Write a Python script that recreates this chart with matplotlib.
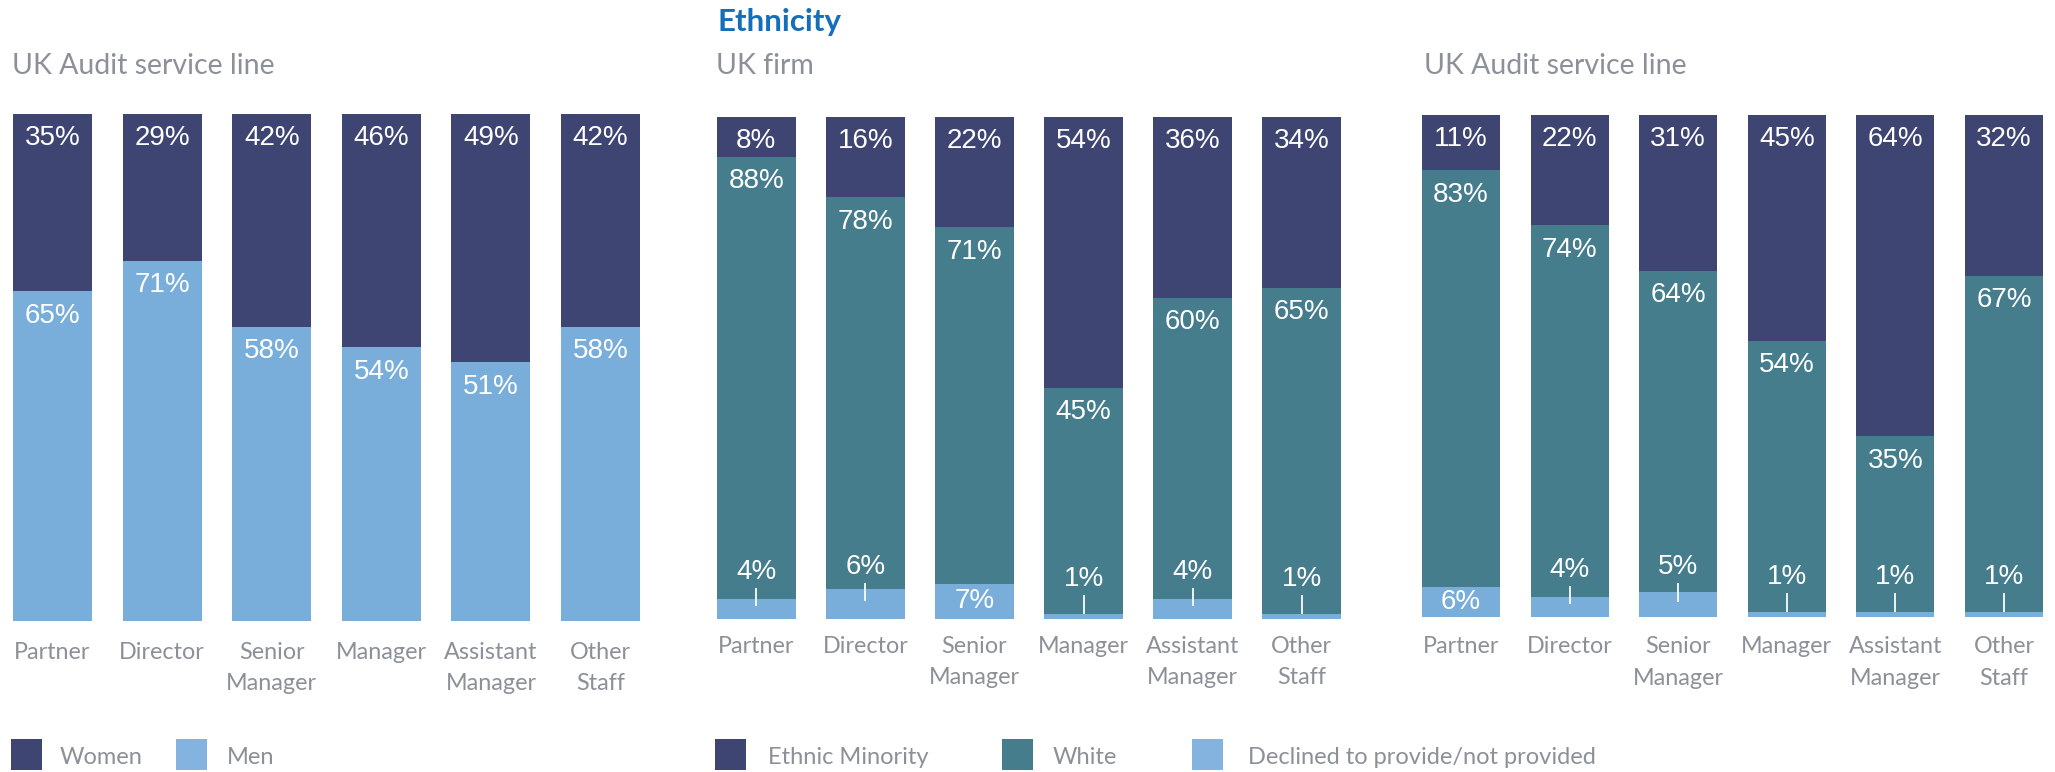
import matplotlib.pyplot as plt
from matplotlib.patches import Rectangle

# =========================
# DATA
# =========================

categories = ["Partner", "Director", "Senior\nManager", "Manager", "Assistant\nManager", "Other\nStaff"]

gender_women = [35, 29, 42, 46, 49, 42]
gender_men = [65, 71, 58, 54, 51, 58]

firm_minority = [8, 16, 22, 54, 36, 34]
firm_white = [88, 78, 71, 45, 60, 65]
firm_declined = [4, 6, 7, 1, 4, 1]

audit_minority = [11, 22, 31, 45, 64, 32]
audit_white = [83, 74, 64, 54, 35, 67]
audit_declined = [6, 4, 5, 1, 1, 1]

# which "declined" labels fit inside their segment
firm_declined_inside = [False, False, True, False, False, False]
audit_declined_inside = [True, False, False, False, False, False]

# =========================
# STYLE
# =========================

NAVY = "#3F4572"
TEAL = "#467D8D"
LIGHT = "#79AEDA"
LIGHT_LEGEND = "#84B3DF"
GREY = "#8C9098"
BLUE = "#146EB9"

LABEL_FONT = "Lato"
VALUE_FONT = "Liberation Sans"

W, H = 2055, 772
fig = plt.figure(figsize=(W / 100, H / 100), dpi=100)


def px_axes(left, top, right, bottom):
    return fig.add_axes([left / W, 1 - bottom / H, (right - left) / W, (bottom - top) / H])


def fx(x):
    return x / W


def fy(y):
    return 1 - y / H


def setup(ax, pad):
    ax.set_xlim(-0.36, 5.36)
    ax.set_ylim(0, 100)
    for s in ax.spines.values():
        s.set_visible(False)
    ax.set_yticks([])
    ax.set_xticks(range(len(categories)))
    ax.set_xticklabels(categories, fontfamily=LABEL_FONT, fontsize=16.8, color=GREY,
                       linespacing=1.6, va="top")
    ax.tick_params(axis="x", length=0, pad=pad)


def seg_label(ax, x, top, value):
    ax.annotate(f"{value}%", (x, top), xytext=(0, -17.5), textcoords="offset points",
                ha="center", va="center", color="white", fontsize=20, fontfamily=VALUE_FONT)


def small_label(ax, x, value, inside):
    mid = value / 2
    if inside:
        ax.text(x, mid, f"{value}%", ha="center", va="center", color="white",
                fontsize=20, fontfamily=VALUE_FONT)
    else:
        b = mid + 0.7
        t = b + 3.3
        ax.plot([x, x], [b, t], color="white", lw=1.4, alpha=0.9)
        ax.text(x, t + 3.4, f"{value}%", ha="center", va="center", color="white",
                fontsize=20, fontfamily=VALUE_FONT)


BAR_W = 0.72
xs = list(range(len(categories)))

# =========================
# PANEL 1 - gender
# =========================

ax1 = px_axes(13, 114, 640, 621)
setup(ax1, 15)
ax1.bar(xs, gender_men, width=BAR_W, color=LIGHT)
ax1.bar(xs, gender_women, bottom=gender_men, width=BAR_W, color=NAVY)
for i in xs:
    seg_label(ax1, i, gender_men[i] + gender_women[i], gender_women[i])
    seg_label(ax1, i, gender_men[i], gender_men[i])

# =========================
# PANELS 2 & 3 - ethnicity
# =========================


def ethnicity_panel(ax, minority, white, declined, inside, pad):
    setup(ax, pad)
    ax.bar(xs, declined, width=BAR_W, color=LIGHT)
    ax.bar(xs, white, bottom=declined, width=BAR_W, color=TEAL)
    wtop = [d + w for d, w in zip(declined, white)]
    ax.bar(xs, minority, bottom=wtop, width=BAR_W, color=NAVY)
    for i in xs:
        seg_label(ax, i, wtop[i] + minority[i], minority[i])
        seg_label(ax, i, wtop[i], white[i])
        small_label(ax, i, declined[i], inside[i])


ax2 = px_axes(717, 117, 1341, 619)
ethnicity_panel(ax2, firm_minority, firm_white, firm_declined, firm_declined_inside, 12)

ax3 = px_axes(1422, 115, 2043, 617)
ethnicity_panel(ax3, audit_minority, audit_white, audit_declined, audit_declined_inside, 14)

# =========================
# TITLES
# =========================

fig.text(fx(717), fy(22), "Ethnicity", color=BLUE, fontsize=22.5, fontweight="bold",
         fontfamily=LABEL_FONT, va="center", ha="left")
for x, t in [(12, "UK Audit service line"), (716, "UK firm"), (1424, "UK Audit service line")]:
    fig.text(fx(x), fy(66), t, color=GREY, fontsize=20.5, fontfamily=LABEL_FONT,
             va="center", ha="left")

# =========================
# LEGENDS
# =========================

legend_items = [
    (11, 60, NAVY, "Women"),
    (176, 227, LIGHT_LEGEND, "Men"),
    (715, 768, NAVY, "Ethnic Minority"),
    (1002, 1053, TEAL, "White"),
    (1192, 1248, LIGHT_LEGEND, "Declined to provide/not provided"),
]
for sx, tx, c, lab in legend_items:
    fig.add_artist(Rectangle((fx(sx), fy(770)), 31 / W, 31 / H, transform=fig.transFigure,
                             color=c, lw=0))
    fig.text(fx(tx), fy(757), lab, color=GREY, fontsize=17, fontfamily=LABEL_FONT,
             va="center", ha="left")

fig.savefig("out.png", dpi=100)
